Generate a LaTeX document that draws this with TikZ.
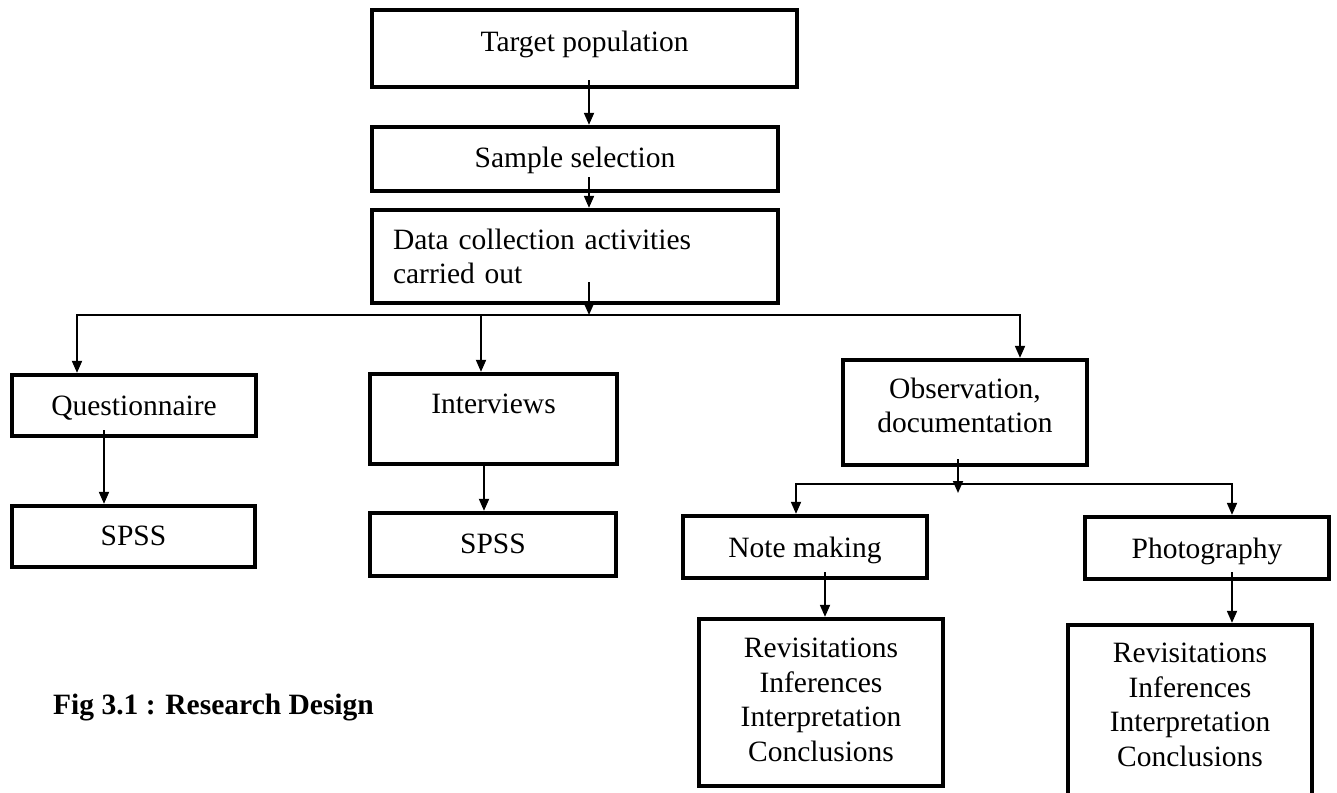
\documentclass[tikz,border=0pt]{standalone}
\usepackage{fontspec}
\setmainfont{Liberation Serif}
\usetikzlibrary{arrows.meta}
\newcommand\lowdepth[1]{\rule[-#1]{0pt}{0pt}}
\begin{document}
\begin{tikzpicture}[x=1pt,y=-1pt,
  box/.style={draw, line width=4.3pt, rectangle, inner sep=0pt, font=\fontsize{29.5}{34.5}\selectfont},
  one/.style={text height=20pt, text depth=#1},
  arr/.style={line width=1.8pt, -{Triangle[length=12pt,width=10pt]}}]
\useasboundingbox (0,0) rectangle (1337,792);
\fill[white] (0,0) rectangle (1337,792);
\clip (0,0) rectangle (1337,792);
% top column
\node[box, one=13pt, minimum width=425pt, minimum height=77pt] (tp) at (584.5,48.5) {Target population};
\node[box, one=4pt, minimum width=406pt, minimum height=64pt] (ss) at (575,159) {Sample selection};
\node[box, align=left, text width=364pt, inner xsep=21pt, minimum height=93pt] (dc) at (575,256.5) {Data collection activities\\carried out};
% second level
\node[box, one=1pt, minimum width=244pt, minimum height=61pt] (q) at (134,405.5) {Questionnaire};
\node[box, one=32pt, minimum width=247pt, minimum height=90pt] (iv) at (493.5,419) {Interviews};
\node[box, align=center, minimum width=244pt, minimum height=105pt] (obs) at (965,412.5) {Observation,\\documentation\lowdepth{14.5pt}};
% third level
\node[box, one=3pt, minimum width=243pt, minimum height=61pt] (sp1) at (133.5,536.5) {SPSS};
\node[box, one=3pt, minimum width=246pt, minimum height=63pt] (sp2) at (493,544.5) {SPSS};
\node[box, one=0pt, minimum width=244pt, minimum height=62pt] (nm) at (805,547) {Note making};
\node[box, one=0pt, minimum width=244pt, minimum height=62pt] (ph) at (1207,548) {Photography};
% fourth level
\node[box, align=center, minimum width=244pt, minimum height=167pt] (r1) at (821,702.5) {Revisitations\\Inferences\\Interpretation\\Conclusions\lowdepth{5.5pt}};
\node[box, align=center, minimum width=244pt, minimum height=175pt] (r2) at (1190,712.5) {Revisitations\\Inferences\\Interpretation\\Conclusions\lowdepth{15.5pt}};
% caption
\node[anchor=base west, inner sep=0pt, font=\bfseries\fontsize{29.5}{34.5}\selectfont] (cap) at (53,714) {Fig 3.1 : Research Design};
% coordinates for connector columns
\coordinate (ax) at (589,0);
\coordinate (b0) at (589,315);
\coordinate (bq) at (77,315);
\coordinate (biv) at (481,315);
\coordinate (bobs) at (1020,315);
\coordinate (xq) at (104,0);
\coordinate (xiv) at (484,0);
\coordinate (b1) at (958,484);
\coordinate (bnm) at (796,484);
\coordinate (bph) at (1232,484);
\coordinate (xnm) at (825,0);
% connectors
\draw[arr] ([yshift=9pt]tp.south -| ax) -- (ss.north -| ax);
\draw[arr] ([yshift=16pt]ss.south -| ax) -- (dc.north -| ax);
\draw[arr] ([yshift=23pt]dc.south -| ax) -- (b0);
\draw[arr] (b0) -| (q.north -| bq);
\draw[arr] (b0) -| (iv.north -| biv);
\draw[arr] (b0) -| (obs.north -| bobs);
\draw[arr] ([yshift=8pt]q.south -| xq) -- (sp1.north -| xq);
\draw[arr] (iv.south -| xiv) -- (sp2.north -| xiv);
\draw[arr] ([yshift=8pt]obs.south -| b1) -- ([yshift=-9pt]b1);
\draw[arr] (b1) -| (nm.north -| bnm);
\draw[arr] (b1) -| (ph.north -| bph);
\draw[arr] ([yshift=8pt]nm.south -| xnm) -- (r1.north -| xnm);
\draw[arr] ([yshift=9pt]ph.south -| bph) -- (r2.north -| bph);
\end{tikzpicture}
\end{document}
